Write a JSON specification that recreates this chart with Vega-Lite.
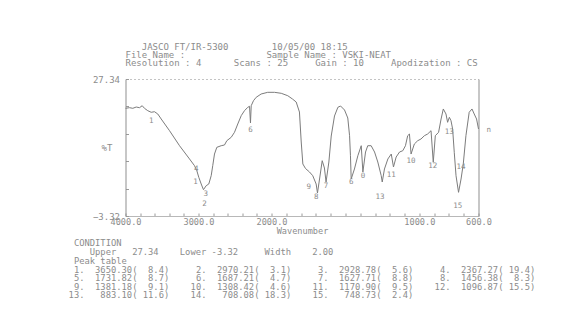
{
  "$schema": "https://vega.github.io/schema/vega-lite/v6.json",
  "background": "white",
  "padding": {"left": 58, "top": 42, "right": 0, "bottom": 0},
  "bounds": "flush",
  "center": true,
  "spacing": 54,
  "config": {"view": {"stroke": null}, "font": "DejaVu Sans Mono"},
  "datasets": {
    "spectrum": [
      {"wn":4000,"t":20.78},{"wn":3945,"t":20.92},{"wn":3900,"t":20.78},{"wn":3853,"t":21.07},{"wn":3808,"t":20.92},{"wn":3771,"t":21.36},{"wn":3740,"t":20.78},{"wn":3695,"t":20.25},{"wn":3648,"t":19.89},{"wn":3603,"t":20.02},{"wn":3558,"t":19.51},{"wn":3511,"t":18.39},{"wn":3397,"t":15.77},{"wn":3260,"t":12.41},{"wn":3123,"t":9.44},{"wn":3055,"t":7.94},{"wn":3023,"t":6.82},{"wn":2996,"t":5.34},{"wn":2963,"t":3.84},{"wn":2932,"t":2.57},{"wn":2895,"t":3.46},{"wn":2859,"t":3.84},{"wn":2826,"t":5.70},{"wn":2805,"t":7.94},{"wn":2781,"t":10.55},{"wn":2749,"t":12.05},{"wn":2689,"t":12.41},{"wn":2644,"t":12.57},{"wn":2612,"t":13.53},{"wn":2552,"t":14.29},{"wn":2507,"t":15.41},{"wn":2462,"t":17.27},{"wn":2415,"t":19.13},{"wn":2370,"t":20.25},{"wn":2325,"t":21.01},{"wn":2301,"t":21.23},{"wn":2288,"t":17.49},{"wn":2278,"t":21.36},{"wn":2247,"t":22.48},{"wn":2210,"t":23.24},{"wn":2142,"t":23.98},{"wn":2052,"t":24.36},{"wn":1980,"t":24.36},{"wn":1934,"t":24.14},{"wn":1890,"t":23.60},{"wn":1858,"t":22.86},{"wn":1833,"t":22.19},{"wn":1811,"t":19.95},{"wn":1799,"t":13.24},{"wn":1788,"t":8.32},{"wn":1770,"t":7.31},{"wn":1743,"t":6.53},{"wn":1721,"t":5.70},{"wn":1698,"t":3.84},{"wn":1689,"t":1.83},{"wn":1675,"t":4.96},{"wn":1657,"t":9.06},{"wn":1642,"t":7.42},{"wn":1631,"t":4.29},{"wn":1612,"t":8.76},{"wn":1596,"t":14.58},{"wn":1574,"t":19.06},{"wn":1551,"t":21.01},{"wn":1533,"t":21.30},{"wn":1506,"t":20.40},{"wn":1484,"t":18.61},{"wn":1472,"t":14.65},{"wn":1466,"t":10.17},{"wn":1461,"t":4.96},{"wn":1439,"t":7.20},{"wn":1416,"t":10.17},{"wn":1393,"t":12.41},{"wn":1382,"t":6.53},{"wn":1364,"t":11.00},{"wn":1349,"t":12.41},{"wn":1326,"t":12.41},{"wn":1303,"t":11.00},{"wn":1281,"t":8.76},{"wn":1258,"t":5.70},{"wn":1251,"t":4.29},{"wn":1236,"t":7.20},{"wn":1213,"t":9.44},{"wn":1190,"t":10.55},{"wn":1175,"t":7.65},{"wn":1157,"t":9.88},{"wn":1134,"t":11.00},{"wn":1112,"t":11.29},{"wn":1094,"t":12.41},{"wn":1079,"t":14.65},{"wn":1067,"t":15.03},{"wn":1056,"t":10.55},{"wn":1034,"t":12.79},{"wn":1011,"t":13.53},{"wn":989,"t":13.91},{"wn":966,"t":14.65},{"wn":944,"t":15.03},{"wn":921,"t":15.77},{"wn":906,"t":8.70},{"wn":892,"t":14.65},{"wn":870,"t":15.41},{"wn":853,"t":18.39},{"wn":838,"t":20.63},{"wn":820,"t":19.51},{"wn":809,"t":17.65},{"wn":797,"t":18.77},{"wn":786,"t":18.01},{"wn":775,"t":16.15},{"wn":764,"t":10.94},{"wn":752,"t":5.70},{"wn":735,"t":1.98},{"wn":718,"t":4.96},{"wn":703,"t":8.32},{"wn":685,"t":14.65},{"wn":663,"t":19.89},{"wn":644,"t":20.63},{"wn":629,"t":19.51},{"wn":613,"t":18.39},{"wn":600,"t":16.15}
    ],
    "labels": [
      {"wn":3648,"t":18.0,"label":"1"},{"wn":3032,"t":7.2,"label":"4"},{"wn":3041,"t":4.2,"label":"1"},{"wn":2900,"t":1.6,"label":"3"},{"wn":2918,"t":-0.6,"label":"2"},{"wn":2288,"t":16.0,"label":"6"},{"wn":1748,"t":3.1,"label":"9"},{"wn":1698,"t":0.9,"label":"8"},{"wn":1631,"t":3.5,"label":"7"},{"wn":1461,"t":4.2,"label":"6"},{"wn":1382,"t":5.7,"label":"0"},{"wn":1266,"t":0.9,"label":"13"},{"wn":1190,"t":5.9,"label":"11"},{"wn":1056,"t":9.1,"label":"10"},{"wn":910,"t":7.9,"label":"12"},{"wn":797,"t":15.4,"label":"13"},{"wn":718,"t":7.6,"label":"14"},{"wn":740,"t":-1.0,"label":"15"},{"wn":530,"t":16.0,"label":"n"}
    ],
    "peaks": [
      {"n":1,"wn":3650.30,"t":8.4},{"n":2,"wn":2970.21,"t":3.1},{"n":3,"wn":2928.78,"t":5.6},{"n":4,"wn":2367.27,"t":19.4},{"n":5,"wn":1731.82,"t":8.7},{"n":6,"wn":1687.21,"t":4.7},{"n":7,"wn":1627.71,"t":8.8},{"n":8,"wn":1456.38,"t":8.3},{"n":9,"wn":1381.18,"t":9.1},{"n":10,"wn":1308.42,"t":4.6},{"n":11,"wn":1170.90,"t":9.5},{"n":12,"wn":1096.87,"t":15.5},{"n":13,"wn":883.10,"t":11.6},{"n":14,"wn":708.08,"t":18.3},{"n":15,"wn":748.73,"t":2.4}
    ]
  },
  "vconcat": [
    {
      "width": 353,
      "height": 137,
      "title": {
        "text": [
          "\u200b\u00a0\u00a0\u00a0JASCO\u00a0FT/IR-5300\u00a0\u00a0\u00a0\u00a0\u00a0\u00a0\u00a0\u00a010/05/00\u00a018:15",
          "File\u00a0Name\u00a0:\u00a0\u00a0\u00a0\u00a0\u00a0\u00a0\u00a0\u00a0\u00a0\u00a0\u00a0\u00a0\u00a0\u00a0\u00a0Sample\u00a0Name\u00a0:\u00a0VSKI-NEAT",
          "Resolution\u00a0:\u00a04\u00a0\u00a0\u00a0\u00a0\u00a0\u00a0Scans\u00a0:\u00a025\u00a0\u00a0\u00a0\u00a0\u00a0Gain\u00a0:\u00a010\u00a0\u00a0\u00a0\u00a0\u00a0Apodization\u00a0:\u00a0CS"
        ],
        "anchor": "start",
        "frame": "group",
        "font": "DejaVu Sans Mono",
        "fontSize": 9,
        "fontWeight": "normal",
        "color": "#8c8c8c",
        "lineHeight": 8.4,
        "offset": 6.5
      },
      "layer": [
        {
          "data": {"name": "spectrum"},
          "mark": {"type": "line", "color": "#7c7c7c", "strokeWidth": 1},
          "encoding": {
            "x": {
              "field": "wn", "type": "quantitative",
              "scale": {"domain": [4000, 2000, 600], "range": [0, 146, 353], "nice": false, "zero": false},
              "axis": {
                "orient": "bottom",
                "values": [4000,3800,3600,3400,3200,3000,2800,2600,2400,2200,2000,1900,1800,1700,1600,1500,1400,1300,1200,1100,1000,900,800,700,600],
                "labelExpr": "indexof([4000,3000,2000,1000,600], datum.value) >= 0 ? format(datum.value, '.1f') : ''",
                "labelFlush": false, "labelOverlap": false, "labelPadding": 4, "labelDx": 3,
                "labelFont": "DejaVu Sans Mono", "labelFontSize": 8.6, "labelColor": "#8c8c8c",
                "tickSize": -3, "tickColor": "#9a9a9a", "domainColor": "#b8b8b8",
                "grid": false,
                "title": "Wavenumber", "titleFont": "DejaVu Sans Mono", "titleFontSize": 8.6,
                "titleFontWeight": "normal", "titleColor": "#8c8c8c", "titlePadding": 1
              }
            },
            "y": {
              "field": "t", "type": "quantitative",
              "scale": {"domain": [-3.32, 27.34], "nice": false, "zero": false},
              "axis": {
                "orient": "left",
                "values": [-3.32, 2.812, 8.944, 15.076, 21.208, 27.34],
                "labelExpr": "abs(datum.value - 27.34) < 0.01 || abs(datum.value + 3.32) < 0.01 ? format(datum.value, '.2f') : ''",
                "labelFlush": false, "labelOverlap": false, "labelPadding": 9,
                "labelFont": "DejaVu Sans Mono", "labelFontSize": 9, "labelColor": "#8c8c8c",
                "tickSize": -3, "tickColor": "#9a9a9a", "domainColor": "#8f8f8f",
                "grid": false,
                "title": "%T", "titleAngle": 0, "titleX": -19, "titleY": 68.5,
                "titleAlign": "center", "titleBaseline": "middle",
                "titleFont": "DejaVu Sans Mono", "titleFontSize": 9, "titleFontWeight": "normal", "titleColor": "#8c8c8c"
              }
            }
          }
        },
        {
          "data": {"name": "labels"},
          "mark": {"type": "text", "font": "DejaVu Sans Mono", "fontSize": 7.5, "color": "#8c8c8c", "baseline": "middle", "align": "center"},
          "encoding": {
            "x": {"field": "wn", "type": "quantitative",
                  "axis": {"orient": "top", "labels": false, "ticks": false, "title": null, "domainColor": "#c4c4c4", "domainDash": [2, 2], "grid": false}},
            "y": {"field": "t", "type": "quantitative",
                  "axis": {"orient": "right", "labels": false, "ticks": false, "title": null, "domainColor": "#8f8f8f", "grid": false}},
            "text": {"field": "label"}
          }
        }
      ],
      "resolve": {"axis": {"x": "independent", "y": "independent"}}
    },
    {
      "width": 488,
      "height": 25,
      "title": {
        "text": [
          "\u200b\u00a0\u00a0\u00a0CONDITION",
          "\u200b\u00a0\u00a0\u00a0\u00a0\u00a0\u00a0Upper\u00a0\u00a0\u00a027.34\u00a0\u00a0\u00a0\u00a0Lower\u00a0-3.32\u00a0\u00a0\u00a0\u00a0\u00a0Width\u00a0\u00a0\u00a0\u00a02.00",
          "\u200b\u00a0\u00a0\u00a0Peak\u00a0table"
        ],
        "anchor": "start",
        "frame": "group",
        "font": "DejaVu Sans Mono",
        "fontSize": 8.8,
        "fontWeight": "normal",
        "color": "#8c8c8c",
        "lineHeight": 9,
        "offset": 0
      },
      "data": {"name": "peaks"},
      "transform": [
        {"calculate": "(datum.n - 1) % 4", "as": "col"},
        {"calculate": "floor((datum.n - 1) / 4)", "as": "row"},
        {"calculate": "'\u200b' + pad(datum.n + '.', 5, '\u00a0', 'left') + '\u00a0\u00a0' + pad(format(datum.wn, '.2f'), 7, '\u00a0', 'left') + '(' + pad(format(datum.t, '.1f'), 5, '\u00a0', 'left') + ')'", "as": "cell"}
      ],
      "mark": {"type": "text", "align": "left", "baseline": "middle", "font": "DejaVu Sans Mono", "fontSize": 8.8, "color": "#8c8c8c"},
      "encoding": {
        "x": {"field": "col", "type": "quantitative", "scale": {"domain": [0, 4], "nice": false, "zero": false}, "axis": null},
        "y": {"field": "row", "type": "quantitative", "scale": {"domain": [0, 3], "reverse": true, "nice": false, "zero": false}, "axis": null},
        "text": {"field": "cell"}
      }
    }
  ]
}
